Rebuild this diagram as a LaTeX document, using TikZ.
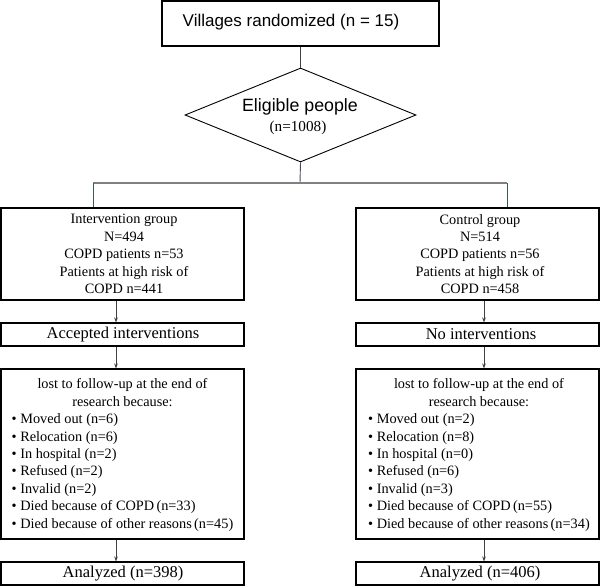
\documentclass[tikz,border=0pt]{standalone}
\usepackage{fontspec}
\setmainfont{Liberation Serif}
\newfontfamily\arialfont{Liberation Sans}
\usetikzlibrary{shapes.geometric,arrows.meta}
\definecolor{slateline}{HTML}{4A4A6A}
\definecolor{tealline}{HTML}{3A5A5A}
\begin{document}
\begin{tikzpicture}[x=1pt,y=-1pt,
  box/.style={draw=black,line width=1.1pt,inner sep=0pt},
  txt/.style={font=\fontsize{14.3}{17.4}\selectfont,align=center,inner sep=0pt},
  one/.style={font=\fontsize{16.5}{18}\selectfont,inner sep=0pt},
  ln/.style={draw=black!75,line width=0.9pt},
  arr/.style={draw=black!75,line width=0.8pt,-{Stealth[length=5pt,width=3.6pt]}}]
\useasboundingbox (0,0) rectangle (600,587);
% top
\node[box,minimum width=277pt,minimum height=45pt] (top) at (300.5,23.5) {};
\node[font=\arialfont\fontsize{17}{18}\selectfont,inner sep=0pt] (toptxt) at (291,22) {Villages randomized (n = 15)};
\node[diamond,draw=black,line width=0.9pt,minimum width=231pt,minimum height=94pt,inner sep=0pt] (dia) at (300.5,115) {};
\node[font=\arialfont\fontsize{17.8}{18}\selectfont,inner sep=0pt] (diat1) at (300,107) {Eligible people};
\node[font=\fontsize{15.2}{16}\selectfont,inner sep=0pt] (diat2) at (298,128) {(n=1008)};
% groups
\node[box,minimum width=243pt,minimum height=92pt] (gl) at (122.5,254) {};
\node[txt] (glt) at (124,254) {Intervention group\\N=494\\COPD patients n=53\\Patients at high risk of\\COPD n=441};
\node[box,minimum width=243pt,minimum height=92pt] (gr) at (477.5,254) {};
\node[txt] (grt) at (480,254) {Control group\\N=514\\COPD patients n=56\\Patients at high risk of\\COPD n=458};
% interventions
\node[box,minimum width=243pt,minimum height=23pt] (al) at (122.5,334.5) {};
\node[one] (alt) at (123,334.5) {Accepted interventions};
\node[box,minimum width=243pt,minimum height=23pt] (ar) at (477.5,334.5) {};
\node[one] (art) at (481,334.5) {No interventions};
% lost
\node[box,minimum width=243pt,minimum height=170pt] (ll) at (122.5,454) {};
\node[txt] (llt) at (122.5,455) {\renewcommand{\arraystretch}{1}\begin{tabular}{@{}l@{}}
\multicolumn{1}{@{}c@{}}{lost to follow-up at the end of}\\
\multicolumn{1}{@{}c@{}}{research because:}\\
• Moved out (n=6)\\
• Relocation (n=6)\\
• In hospital (n=2)\\
• Refused (n=2)\\
• Invalid (n=2)\\
• Died because of COPD\,(n=33)\\
• Died because of other reasons\,(n=45)
\end{tabular}};
\node[box,minimum width=243pt,minimum height=170pt] (lr) at (477.5,454) {};
\node[txt] (lrt) at (479,455) {\renewcommand{\arraystretch}{1}\begin{tabular}{@{}l@{}}
\multicolumn{1}{@{}c@{}}{lost to follow-up at the end of}\\
\multicolumn{1}{@{}c@{}}{research because:}\\
• Moved out (n=2)\\
• Relocation (n=8)\\
• In hospital (n=0)\\
• Refused (n=6)\\
• Invalid (n=3)\\
• Died because of COPD\,(n=55)\\
• Died because of other reasons\,(n=34)
\end{tabular}};
% analyzed
\node[box,minimum width=243pt,minimum height=23pt] (nl) at (122.5,573.5) {};
\node[one] (nlt) at (123,573.5) {Analyzed (n=398)};
\node[box,minimum width=243pt,minimum height=23pt] (nr) at (477.5,573.5) {};
\node[one] (nrt) at (480,573.5) {Analyzed (n=406)};
% coordinates
\coordinate (hl) at (93,183);
\coordinate (hr) at (507,183);
\coordinate (hc) at (300,183);
\coordinate (xl) at (116,0);
\coordinate (xr) at (484,0);
% connectors
\draw[ln] (top.south) -- (dia.north);
\draw[ln,draw=slateline] (dia.south) -- (hc);
\draw[draw=black!50,line width=1.1pt] (hl) -- (hr);
\draw[ln,draw=tealline] (hl) -- (gl.north -| hl);
\draw[ln,draw=tealline] (hr) -- (gr.north -| hr);
\draw[arr] (gl.south -| xl) -- (al.north -| xl);
\draw[arr] (al.south -| xl) -- (ll.north -| xl);
\draw[arr] (ll.south -| xl) -- (nl.north -| xl);
\draw[arr] (gr.south -| xr) -- (ar.north -| xr);
\draw[arr] (ar.south -| xr) -- (lr.north -| xr);
\draw[arr] (lr.south -| xr) -- (nr.north -| xr);
\end{tikzpicture}
\end{document}
